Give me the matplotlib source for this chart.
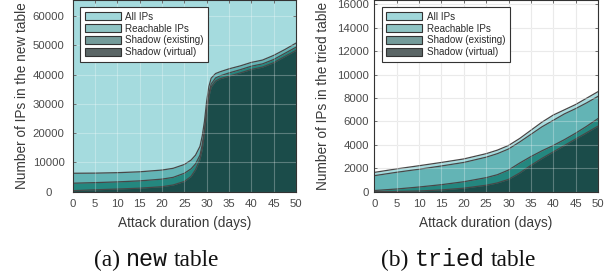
import matplotlib
matplotlib.use("Agg")
import matplotlib.pyplot as plt
from matplotlib.patches import Patch

# ---------------- data ----------------
# (a) new table
new_days = [0, 5, 10, 15, 20, 22.5, 25, 26.5, 27.5, 28.5, 29, 29.5, 30, 30.5, 31, 32, 33, 35, 37.5, 40, 42.5, 45, 47.5, 50]
new_all_ips = [65536] * 24
new_reachable = [6300, 6350, 6500, 6800, 7400, 8000, 9300, 10800, 12500, 15500, 19000, 24000, 31000, 36000, 38800,
                 40400, 41000, 42000, 43000, 44200, 45000, 46600, 48600, 50800]
new_shadow_existing = [2900, 3100, 3350, 3700, 4300, 4900, 6300, 7800, 9500, 12500, 16000, 21000, 28000, 33500, 36800,
                       38900, 39600, 40600, 41700, 42900, 43700, 45200, 47300, 49400]
new_shadow_virtual = [350, 650, 900, 1200, 1700, 2300, 3500, 5200, 7500, 11000, 14500, 20000, 27000, 32500, 35800,
                      37800, 38600, 39500, 40600, 41800, 42600, 44100, 46200, 48300]

# (b) tried table
tried_days = [0, 5, 10, 15, 20, 25, 27.5, 30, 32.5, 35, 37.5, 40, 42.5, 45, 47.5, 50]
tried_all_ips = [1650, 1950, 2220, 2500, 2800, 3250, 3550, 3950, 4550, 5250, 5950, 6550, 7000, 7450, 8000, 8550]
tried_reachable = [1370, 1660, 1920, 2200, 2500, 2950, 3250, 3650, 4250, 4900, 5550, 6100, 6650, 7100, 7600, 8150]
tried_shadow_existing = [100, 230, 400, 600, 850, 1200, 1450, 1850, 2450, 3000, 3500, 3950, 4450, 5000, 5600, 6250]
tried_shadow_virtual = [0, 20, 60, 150, 300, 550, 750, 1050, 1600, 2250, 2850, 3400, 3950, 4500, 5050, 5600]

labels = ["All IPs", "Reachable IPs", "Shadow (existing)", "Shadow (virtual)"]
fill_colors = ["#a5dbde", "#63b4b5", "#24877f", "#1b4c4a"]
legend_colors = ["#a0d7da", "#8fc4c4", "#749b9a", "#5b6666"]
edge_color = "#474747"

W, H = 613, 277
fig = plt.figure(figsize=(W / 100, H / 100), dpi=100)

def px_axes(l, r, t, b):
    return fig.add_axes([l / W, 1 - b / H, (r - l) / W, (b - t) / H])

ax1 = px_axes(72.7, 296.0, 0.0, 191.7)
ax2 = px_axes(374.3, 598.0, 0.0, 191.7)

FONT = "Liberation Sans"
tick_color = "#4a4a4a"
LABEL_SIZE = 9.8

def draw(ax, days, layers, top_limit, has_top_line):
    # background grid (visible on white)
    for x in range(0, 51, 5):
        ax.axvline(x, color="#e3e3e3", lw=0.8, zorder=0.5)
    ystep = 10000 if top_limit > 20000 else 2000
    for y in range(0, int(top_limit) + 1, ystep):
        ax.axhline(y, color="#e3e3e3", lw=0.8, zorder=0.5)
    # fills, top layer first
    for i, vals in enumerate(layers):
        ax.fill_between(days, 0, vals, color=fill_colors[i], lw=0, zorder=1 + i)
    # boundary lines
    for i, vals in enumerate(layers):
        if i == 0 and not has_top_line:
            continue
        ax.plot(days, vals, color=edge_color, lw=0.9, zorder=6)
    # grid on top of fills
    for x in range(0, 51, 5):
        ax.axvline(x, color="white", lw=0.8, alpha=0.28, zorder=7)
    for y in range(0, int(top_limit) + 1, ystep):
        ax.axhline(y, color="white", lw=0.8, alpha=0.28, zorder=7)
    ax.set_xlim(0, 50)
    ax.set_ylim(0, top_limit)
    ax.set_xticks(range(0, 51, 5))
    ax.set_yticks(range(0, int(top_limit) + 1, ystep))
    ax.tick_params(direction="in", length=2.5, width=0.7, top=True, right=True,
                   labelsize=8.2, colors="#333333", labelcolor=tick_color)
    ax.tick_params(axis="x", pad=5.5)
    for lab in ax.get_xticklabels() + ax.get_yticklabels():
        lab.set_family(FONT)
    for s in ax.spines.values():
        s.set_color("#333333")
        s.set_linewidth(0.8)
        s.set_zorder(10)
    ax.set_xlabel("Attack duration (days)", family=FONT, fontsize=LABEL_SIZE, color="#3a3a3a")
    ax.xaxis.set_label_coords(0.5, -0.163)
    ax.xaxis.label.set_va("center")
    handles = [Patch(facecolor=legend_colors[i], edgecolor="#333333", lw=0.8) for i in range(4)]
    leg = ax.legend(handles, labels, loc="upper left", bbox_to_anchor=(0.034, 0.963),
                    borderaxespad=0, prop={"family": FONT, "size": 7.1},
                    handlelength=3.65, handleheight=0.9, labelspacing=0.2,
                    handletextpad=0.45, borderpad=0.45, fancybox=False, framealpha=1)
    leg.get_frame().set_edgecolor("#333333")
    leg.get_frame().set_linewidth(0.8)
    leg.set_zorder(20)
    for t in leg.get_texts():
        t.set_color("#2a2a2a")

draw(ax1, new_days, [new_all_ips, new_reachable, new_shadow_existing, new_shadow_virtual], 65536, False)
draw(ax2, tried_days, [tried_all_ips, tried_reachable, tried_shadow_existing, tried_shadow_virtual], 16384, True)

for lab in ax1.get_yticklabels():
    lab.set_ha("center")
ax1.tick_params(axis="y", pad=17.4)
ax2.tick_params(axis="y", pad=4)

ax1.set_ylabel("Number of IPs in the new table", family=FONT, fontsize=LABEL_SIZE, color="#3a3a3a")
ax1.yaxis.set_label_coords((21.7 - 72.7) / (296.0 - 72.7), 0.5)
ax2.set_ylabel("Number of IPs in the tried table", family=FONT, fontsize=LABEL_SIZE, color="#3a3a3a")
ax2.yaxis.set_label_coords((322.7 - 374.3) / (598.0 - 374.3), 0.5)
for ax in (ax1, ax2):
    ax.yaxis.label.set_va("center")

# captions: serif + monospace pieces
renderer = fig.canvas.get_renderer()
CAP_SIZE = 16.8

def caption(xc, ybase, pre, mono, post):
    parts = [(pre, "Liberation Serif"), (mono, "Liberation Mono"), (post, "Liberation Serif")]
    texts = [fig.text(0, 0, s, family=f, size=CAP_SIZE, va="baseline", ha="left", color="#111111")
             for s, f in parts]
    widths = [t.get_window_extent(renderer).width for t in texts]
    gap = 0.25 * CAP_SIZE * 100 / 72
    total = sum(widths) + 2 * gap
    x = xc - total / 2
    for t, w in zip(texts, widths):
        t.set_position((x / W, 1 - ybase / H))
        x += w + gap

caption(156.7, 266.5, "(a)", "new", "table")
caption(458.5, 266.5, "(b)", "tried", "table")

fig.savefig("out.png", dpi=100)
